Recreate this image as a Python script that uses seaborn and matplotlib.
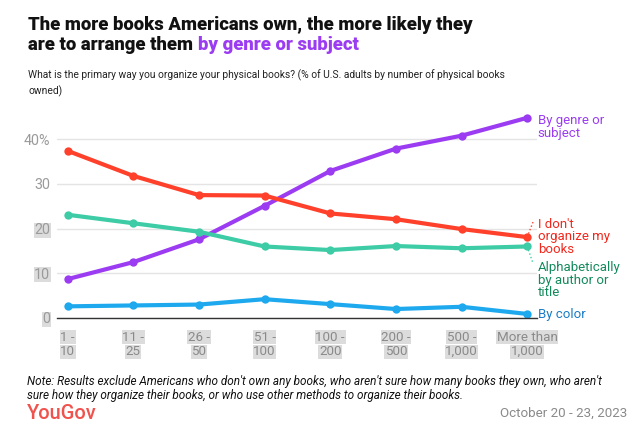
import pandas as pd
import matplotlib.pyplot as plt
import seaborn as sns

# books owned buckets
groups = ["1 -\n10", "11 -\n25", "26 -\n50", "51 -\n100", "100 -\n200",
          "200 -\n500", "500 -\n1,000", "More than\n1,000"]

genre = [8.7, 12.5, 17.6, 25.1, 32.9, 37.9, 40.8, 44.8]
dont_organize = [37.4, 31.8, 27.5, 27.4, 23.4, 22.1, 19.9, 18.1]
alphabetical = [23.1, 21.2, 19.3, 16.0, 15.2, 16.1, 15.6, 16.0]
by_color = [2.6, 2.8, 3.0, 4.2, 3.1, 2.0, 2.5, 0.9]

series_names = ["By genre or subject", "I don't organize my books",
                "Alphabetically by author or title", "By color"]
line_colors = ["#9b3cf2", "#ff412c", "#3dcca6", "#1ea9ee"]
text_colors = ["#9b3cf2", "#f0281e", "#138a5c", "#1a7cc4"]
end_labels = ["By genre or\nsubject", "I don't\norganize my\nbooks",
              "Alphabetically\nby author or\ntitle", "By color"]

rows = []
for name, vals in zip(series_names, [genre, dont_organize, alphabetical, by_color]):
    for g, v in zip(groups, vals):
        rows.append({"group": g, "pct": v, "method": name})
df = pd.DataFrame(rows)

sns.set_style("white")
plt.rcParams["font.family"] = ["Roboto", "DejaVu Sans"]

fig = plt.figure(figsize=(6.39, 4.41), dpi=100)
ax = fig.add_axes([0.0897, 0.279, 0.750, 0.466])

sns.lineplot(data=df, x="group", y="pct", hue="method", palette=line_colors,
             hue_order=series_names, marker="o", markersize=6, markeredgewidth=0,
             linewidth=3, sort=False, legend=False, ax=ax)

ax.set_xlim(-0.158, 7.143)
ax.set_ylim(0, 46)
ax.set_yticks([0, 10, 20, 30, 40])
ax.set_yticklabels(["0", "10", "20", "30", "40%"])
ax.yaxis.grid(True, color="#e4e4e4", linewidth=1)
ax.set_axisbelow(True)
ax.set_xlabel("")
ax.set_ylabel("")
for s in ["top", "right", "left"]:
    ax.spines[s].set_visible(False)
ax.spines["bottom"].set_color("#333333")
ax.spines["bottom"].set_linewidth(1)
ax.tick_params(axis="x", length=5, width=1, color="#333333", labelbottom=False)
ax.tick_params(axis="y", length=0, labelsize=10.3, labelcolor="#9a9a9a", pad=5)
for lab in ax.get_yticklabels()[:3]:
    lab.set_bbox(dict(facecolor="#dcdcdc", edgecolor="none", pad=0.3))

# category labels, one highlighted box per line
for i, g in enumerate(groups):
    for j, part in enumerate(g.split("\n")):
        ax.annotate(part, xy=(i, 0), xycoords=("data", "axes fraction"),
                    xytext=(0, -13.9 - 10.4 * j), textcoords="offset points",
                    ha="center", va="center", fontsize=9.6, color="#8a8a8a",
                    bbox=dict(facecolor="#dcdcdc", edgecolor="none", pad=0.4))

# end-of-line labels
last = len(groups) - 1
label_y = [45.6, 22.4, 12.7, 0.7]
label_va = ["top", "top", "top", "center"]
for txt, col, ly, va in zip(end_labels, text_colors, label_y, label_va):
    ax.text(last + 0.16, ly, txt, color=col, fontsize=9.5, va=va,
            ha="left", linespacing=0.95, clip_on=False)
ax.plot([last, last + 0.09], [dont_organize[-1], 21.5], ls=":", color=line_colors[1],
        lw=1, clip_on=False)
ax.plot([last, last + 0.09], [alphabetical[-1], 12.2], ls=":", color=line_colors[2],
        lw=1, clip_on=False)

# header
fig.text(0.044, 0.932, "The more books Americans own, the more likely they",
         fontsize=13.3, fontweight="heavy", color="#111111", va="baseline")
t1 = fig.text(0.044, 0.887, "are to arrange them ", fontsize=13.3, fontweight="heavy",
              color="#111111", va="baseline")
fig.canvas.draw()
bb = t1.get_window_extent()
fig.text(bb.x1 / fig.bbox.width, 0.887, "by genre or subject", fontsize=13.3,
         fontweight="heavy", color="#9b3cf2", va="baseline")
fig.text(0.044, 0.842, "What is the primary way you organize your physical books? "
         "(% of U.S. adults by number of physical books\nowned)",
         fontsize=7.4, color="#222222", va="top", linespacing=1.45)

# footer
fig.text(0.043, 0.120, "Note: Results exclude Americans who don't own any books, "
         "who aren't sure how many books they own, who aren't\nsure how they "
         "organize their books, or who use other methods to organize their books.",
         fontsize=8.5, style="italic", color="#111111", va="center", linespacing=1.1)
fig.text(0.042, 0.063, "YouGov", fontsize=14.5, color="#f0524d", va="center",
         fontweight="medium")
fig.text(0.981, 0.063, "October 20 - 23, 2023", fontsize=9.6, color="#8a8a8a",
         va="center", ha="right")

fig.savefig("out.png", dpi=100)
